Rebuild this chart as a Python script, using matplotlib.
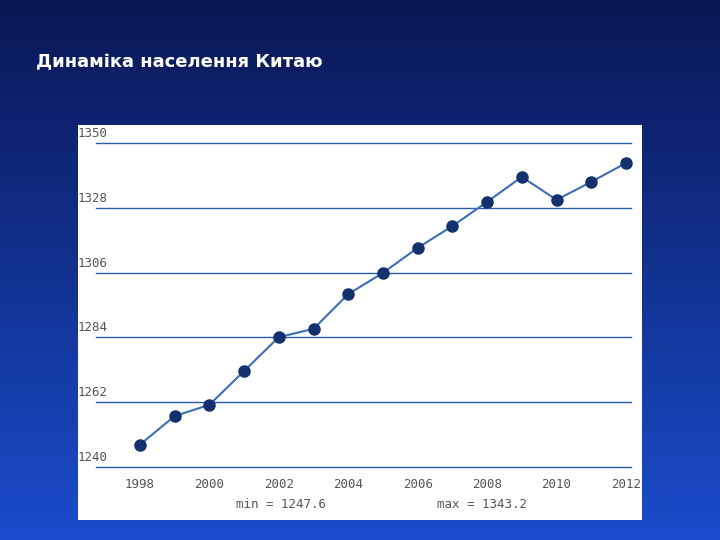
import numpy as np
import matplotlib.pyplot as plt
from matplotlib.patches import Rectangle

# DATA
years = [1998, 1999, 2000, 2001, 2002, 2003, 2004, 2005, 2006, 2007, 2008, 2009, 2010, 2011, 2012]
population = [1247.6, 1257.3, 1261.1, 1272.6, 1284.1, 1286.9, 1298.7, 1305.9, 1314.4, 1321.8,
              1330.0, 1338.5, 1330.7, 1336.8, 1343.2]
y_ticks = [1240, 1262, 1284, 1306, 1328, 1350]
x_ticks = [1998, 2000, 2002, 2004, 2006, 2008, 2010, 2012]
title = "Динаміка населення Китаю"

fig = plt.figure(figsize=(7.2, 5.4), dpi=100)

# GRADIENT BACKGROUND
bg = fig.add_axes([0, 0, 1, 1], zorder=0)
grad = np.linspace(0, 1, 256).reshape(-1, 1)
top = np.array([0.04, 0.09, 0.33])
bot = np.array([0.10, 0.30, 0.80])
img = top + (bot - top) * grad[:, :, None]
bg.imshow(img, aspect='auto', extent=[0, 1, 0, 1])
bg.axis('off')
fig.text(0.05, 0.875, title, color='white', fontsize=13, fontweight='bold')

# WHITE PANEL
fig.patches.append(Rectangle((0.108, 0.037), 0.783, 0.731, transform=fig.transFigure,
                             facecolor='white', edgecolor='none', zorder=1))

ax = fig.add_axes([0.1944, 0.1352, 0.675, 0.6], zorder=2)
ax.patch.set_alpha(0)
ax.set_xlim(1998, 2012)
ax.set_ylim(1240, 1350)
for s in ax.spines.values():
    s.set_visible(False)
ax.set_yticks([])
ax.set_xticks(x_ticks)
ax.tick_params(axis='x', length=0, pad=8, labelsize=9, labelcolor='#555555')
for lab in ax.get_xticklabels():
    lab.set_family('DejaVu Sans Mono')

for v in y_ticks:
    ax.axhline(v, xmin=-0.09, xmax=1.01, color='#2a5db0', lw=1, clip_on=False, zorder=1)
    ax.text(1996.2, v + 1, str(v), fontsize=9, color='#555555', va='bottom', ha='left',
            family='DejaVu Sans Mono')

ax.plot(years, population, color='#3a6fc0', lw=1.5, marker='o', markersize=8,
        markerfacecolor='#14306e', markeredgecolor='#14306e', zorder=3, clip_on=False)

fig.text(0.39, 0.06, 'min = %.1f' % min(population), fontsize=9, color='#555555',
         ha='center', family='DejaVu Sans Mono')
fig.text(0.67, 0.06, 'max = %.1f' % max(population), fontsize=9, color='#555555',
         ha='center', family='DejaVu Sans Mono')

fig.savefig('out.png', dpi=100)
